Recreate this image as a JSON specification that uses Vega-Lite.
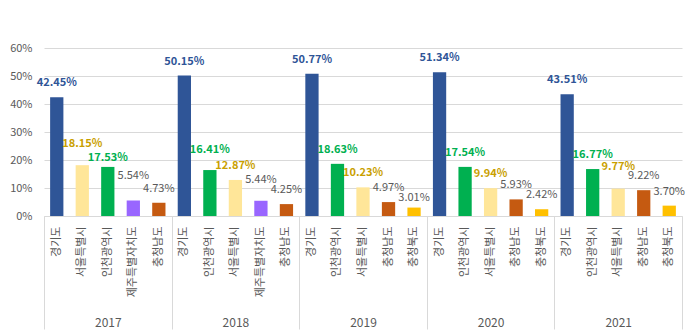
{
  "$schema": "https://vega.github.io/schema/vega-lite/v6.json",
  "width": 638,
  "height": 168,
  "padding": {"left": 9, "top": 42, "right": 17, "bottom": 0},
  "background": "white",
  "config": {
    "view": {"stroke": null},
    "font": "Noto Sans CJK KR",
    "axis": {"labelFont": "Noto Sans CJK KR", "labelColor": "#595959"}
  },
  "data": {
    "values": [
      {"key": "2017|경기도", "year": "2017", "region": "경기도", "value": 0.4245},
      {"key": "2017|서울특별시", "year": "2017", "region": "서울특별시", "value": 0.1815},
      {"key": "2017|인천광역시", "year": "2017", "region": "인천광역시", "value": 0.1753},
      {"key": "2017|제주특별자치도", "year": "2017", "region": "제주특별자치도", "value": 0.0554},
      {"key": "2017|충청남도", "year": "2017", "region": "충청남도", "value": 0.0473},
      {"key": "2018|경기도", "year": "2018", "region": "경기도", "value": 0.5015},
      {"key": "2018|인천광역시", "year": "2018", "region": "인천광역시", "value": 0.1641},
      {"key": "2018|서울특별시", "year": "2018", "region": "서울특별시", "value": 0.1287},
      {"key": "2018|제주특별자치도", "year": "2018", "region": "제주특별자치도", "value": 0.0544},
      {"key": "2018|충청남도", "year": "2018", "region": "충청남도", "value": 0.0425},
      {"key": "2019|경기도", "year": "2019", "region": "경기도", "value": 0.5077},
      {"key": "2019|인천광역시", "year": "2019", "region": "인천광역시", "value": 0.1863},
      {"key": "2019|서울특별시", "year": "2019", "region": "서울특별시", "value": 0.1023},
      {"key": "2019|충청남도", "year": "2019", "region": "충청남도", "value": 0.0497},
      {"key": "2019|충청북도", "year": "2019", "region": "충청북도", "value": 0.0301},
      {"key": "2020|경기도", "year": "2020", "region": "경기도", "value": 0.5134},
      {"key": "2020|인천광역시", "year": "2020", "region": "인천광역시", "value": 0.1754},
      {"key": "2020|서울특별시", "year": "2020", "region": "서울특별시", "value": 0.0994},
      {"key": "2020|충청남도", "year": "2020", "region": "충청남도", "value": 0.0593},
      {"key": "2020|충청북도", "year": "2020", "region": "충청북도", "value": 0.0242},
      {"key": "2021|경기도", "year": "2021", "region": "경기도", "value": 0.4351},
      {"key": "2021|인천광역시", "year": "2021", "region": "인천광역시", "value": 0.1677},
      {"key": "2021|서울특별시", "year": "2021", "region": "서울특별시", "value": 0.0977},
      {"key": "2021|충청남도", "year": "2021", "region": "충청남도", "value": 0.0922},
      {"key": "2021|충청북도", "year": "2021", "region": "충청북도", "value": 0.0370}
    ]
  },
  "layer": [
    {
      "encoding": {
        "x": {
          "field": "key",
          "type": "nominal",
          "sort": null,
          "scale": {"paddingInner": 0.48, "paddingOuter": 0.24},
          "axis": {
            "orient": "bottom",
            "title": null,
            "labelExpr": "split(datum.label, '|')[1]",
            "labelAngle": 270,
            "labelFontSize": 11,
            "labelPadding": 10,
            "ticks": false,
            "domain": true,
            "domainColor": "#d9d9d9",
            "grid": false
          }
        },
        "y": {
          "field": "value",
          "type": "quantitative",
          "scale": {"domain": [0, 0.6], "nice": false},
          "axis": {
            "title": null,
            "format": ".0%",
            "values": [0, 0.1, 0.2, 0.3, 0.4, 0.5, 0.6],
            "domain": false,
            "ticks": false,
            "labelPadding": 12,
            "labelFontSize": 11,
            "gridColor": "#d9d9d9"
          }
        }
      },
      "layer": [
        {
          "mark": {"type": "bar"},
          "encoding": {
            "color": {
              "field": "region",
              "type": "nominal",
              "scale": {
                "domain": ["경기도", "서울특별시", "인천광역시", "제주특별자치도", "충청남도", "충청북도"],
                "range": ["#2F5597", "#FFE699", "#00B050", "#9966FF", "#C55A11", "#FFC000"]
              },
              "legend": null
            }
          }
        },
        {
          "transform": [{"filter": "indexof(['경기도','서울특별시','인천광역시'], datum.region) >= 0"}],
          "mark": {
            "type": "text",
            "baseline": "middle",
            "dy": {"expr": "datum.key == '2017|서울특별시' ? -21 : datum.key == '2017|인천광역시' ? -9 : datum.key == '2018|인천광역시' ? -20 : datum.key == '2021|서울특별시' ? -22 : -14"},
            "fontSize": 11,
            "fontWeight": "bold"
          },
          "encoding": {
            "text": {"field": "value", "type": "quantitative", "format": ".2%"},
            "color": {
              "condition": [
                {"test": "datum.region == '경기도'", "value": "#2F5597"},
                {"test": "datum.region == '서울특별시'", "value": "#C9A000"}
              ],
              "value": "#00B050"
            }
          }
        },
        {
          "transform": [{"filter": "indexof(['경기도','서울특별시','인천광역시'], datum.region) < 0"}],
          "mark": {
            "type": "text",
            "baseline": "middle",
            "dy": {"expr": "datum.key == '2017|제주특별자치도' ? -24 : datum.key == '2018|제주특별자치도' ? -21 : datum.key == '2019|충청북도' ? -10 : -14"},
            "fontSize": 11,
            "color": "#595959"
          },
          "encoding": {
            "text": {"field": "value", "type": "quantitative", "format": ".2%"}
          }
        }
      ]
    },
    {
      "mark": {"type": "tick", "opacity": 0},
      "encoding": {
        "x": {
          "field": "year",
          "type": "nominal",
          "scale": {"paddingInner": 0, "paddingOuter": 0},
          "axis": {
            "orient": "bottom",
            "title": null,
            "domain": false,
            "grid": false,
            "ticks": true,
            "tickBand": "extent",
            "tickSize": 113,
            "tickColor": "#d9d9d9",
            "labelPadding": -12,
            "labelFontSize": 12,
            "labelAngle": 0
          }
        }
      }
    }
  ],
  "resolve": {"scale": {"x": "independent"}, "axis": {"x": "independent"}}
}
